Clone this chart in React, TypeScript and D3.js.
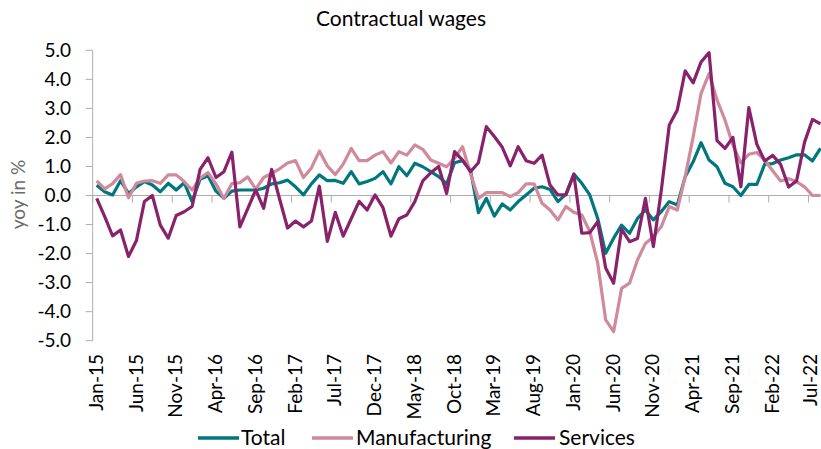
import { useMemo } from 'react'
import * as d3 from 'd3'

const monthNames = ['Jan', 'Feb', 'Mar', 'Apr', 'May', 'Jun', 'Jul', 'Aug', 'Sep', 'Oct', 'Nov', 'Dec']
const years = ['15', '16', '17', '18', '19', '20', '21', '22']
const categories = years.flatMap(y => monthNames.map(m => `${m}-${y}`)).slice(0, 92)

const total = [
  0.35, 0.13, 0.02, 0.51, 0.07, 0.3, 0.48, 0.36, 0.13, 0.42, 0.19, 0.44,
  -0.21, 0.56, 0.68, 0.15, -0.1, 0.15, 0.19, 0.19, 0.19, 0.25, 0.4, 0.44,
  0.53, 0.3, 0.02, 0.4, 0.71, 0.51, 0.52, 0.42, 0.82, 0.4, 0.48, 0.59,
  0.82, 0.4, 0.99, 0.68, 1.11, 0.99, 0.82, 0.65, 0.4, 1.13, 1.2, 0.88,
  -0.59, -0.1, -0.71, -0.29, -0.5, -0.21, 0.02, 0.25, 0.3, 0.21, -0.21, 0.05,
  0.74, 0.42, 0.02, -0.79, -1.99, -1.47, -1.02, -1.3, -0.79, -0.5, -0.84, -0.55,
  -0.21, -0.33, 0.65, 1.16, 1.82, 1.22, 0.99, 0.42, 0.3, 0.0, 0.38, 0.38,
  1.08, 1.1, 1.22, 1.3, 1.4, 1.4, 1.19, 1.62
]

const manufacturing = [
  0.5, 0.23, 0.41, 0.72, -0.08, 0.42, 0.5, 0.51, 0.42, 0.71, 0.71, 0.48,
  0.19, 0.6, 0.79, 0.4, -0.1, 0.41, 0.44, 0.64, 0.22, 0.62, 0.76, 0.92,
  1.12, 1.2, 0.62, 0.95, 1.53, 1.02, 0.72, 1.08, 1.62, 1.2, 1.2, 1.39,
  1.51, 1.12, 1.51, 1.39, 1.74, 1.59, 1.22, 1.11, 0.99, 1.28, 1.68, 0.76,
  -0.1, 0.1, 0.1, 0.1, -0.04, 0.1, 0.4, 0.4, -0.27, -0.5, -0.84, -0.38,
  -0.58, -0.67, -1.24, -2.33, -4.28, -4.69, -3.2, -3.02, -2.22, -1.65, -1.42, -1.07,
  -0.38, -0.5, 0.65, 2.02, 3.52, 4.2, 3.29, 2.6, 1.74, 1.12, 1.42, 1.48,
  1.22, 0.85, 0.5, 0.58, 0.48, 0.3, 0.0, 0.0
]

const services = [
  -0.1, -0.72, -1.39, -1.19, -2.1, -1.55, -0.21, 0.0, -1.02, -1.47, -0.69, -0.56,
  -0.38, 0.9, 1.3, 0.62, 0.82, 1.49, -1.08, -0.45, 0.19, -0.44, 0.9, -0.12,
  -1.12, -0.88, -1.08, -0.88, 0.32, -1.58, -0.58, -1.4, -0.8, -0.2, -0.5, 0.02,
  -0.42, -1.4, -0.8, -0.67, -0.21, 0.5, 0.78, 1.0, 0.07, 1.51, 1.22, 0.82,
  1.13, 2.37, 2.03, 1.66, 1.02, 1.68, 1.2, 1.11, 1.39, 0.36, 0.02, 0.02,
  0.73, -1.3, -1.28, -0.9, -2.5, -3.02, -1.16, -1.59, -1.48, -0.1, -1.76, 0.19,
  2.43, 2.94, 4.29, 3.88, 4.6, 4.92, 1.89, 1.62, 2.0, 0.3, 3.03, 1.77,
  1.19, 1.38, 1.07, 0.29, 0.5, 1.83, 2.62, 2.47
]

const seriesNames = ['Total', 'Manufacturing', 'Services']
const seriesColors = ['#00777d', '#d08a9b', '#88226a']
const yTicks = [-5, -4, -3, -2, -1, 0, 1, 2, 3, 4, 5]
const labelEvery = 5

const W = 821
const H = 449
const FONT = 'Lato, "Open Sans", sans-serif'

export default function App() {
  const series = [total, manufacturing, services]

  const x = useMemo(() => d3.scaleBand<string>()
    .domain(categories)
    .range([92.7, 92.7 + categories.length * 7.953])
    .padding(0), [])

  const y = useMemo(() => d3.scaleLinear().domain([-5, 5]).range([340.7, 50.3]), [])

  const cx = (c: string) => x(c)! + x.bandwidth() / 2

  const line = d3.line<number>()
    .x((_, i) => cx(categories[i]))
    .y(d => y(d))

  const left = x.range()[0]
  const right = x.range()[1]
  const tickCats = categories.filter((_, i) => i % labelEvery === 0)

  // legend layout: line sample start, text start
  const legend = [
    { lx: 198, tx: 241 },
    { lx: 312, tx: 356 },
    { lx: 514, tx: 559 }
  ]

  return (
    <svg width={W} height={H} style={{ position: 'absolute', left: 0, top: 0, background: '#fff' }}
      fontFamily={FONT}>
      <text x={401} y={26} textAnchor="middle" fontSize={21} fill="#000">Contractual wages</text>

      {/* y axis */}
      <line x1={left} x2={left} y1={y(5)} y2={y(-5)} stroke="#adadad" strokeWidth={1} />
      {yTicks.map(t => (
        <g key={t}>
          <line x1={left - 7} x2={left} y1={y(t)} y2={y(t)} stroke="#adadad" />
          <text x={71} y={y(t)} dy="0.35em" textAnchor="end" fontSize={19} fill="#000">{t.toFixed(1)}</text>
        </g>
      ))}
      <text transform={`translate(25,${y(0) - 1}) rotate(-90)`} textAnchor="middle" fontSize={19}
        fill="#6b6b6b">yoy in %</text>

      {/* x axis at zero */}
      <line x1={left} x2={right} y1={y(0)} y2={y(0)} stroke="#adadad" />
      {tickCats.map(c => (
        <line key={c} x1={x(c)!} x2={x(c)!} y1={y(0)} y2={y(0) + 7} stroke="#adadad" />
      ))}
      {tickCats.map(c => (
        <text key={c} transform={`translate(${Math.min(cx(c), 811)},354) rotate(-90)`} textAnchor="end"
          dy="0.32em" fontSize={19} fill="#000">{c}</text>
      ))}

      {/* series */}
      {series.map((s, k) => (
        <path key={seriesNames[k]} d={line(s)!} fill="none" stroke={seriesColors[k]}
          strokeWidth={3.2} strokeLinejoin="round" />
      ))}

      {/* legend */}
      {seriesNames.map((n, k) => (
        <g key={n}>
          <line x1={legend[k].lx} x2={legend[k].lx + 41} y1={438} y2={438}
            stroke={seriesColors[k]} strokeWidth={3.5} />
          <text x={legend[k].tx} y={438} dy="0.35em" fontSize={21} fill="#000">{n}</text>
        </g>
      ))}
    </svg>
  )
}
